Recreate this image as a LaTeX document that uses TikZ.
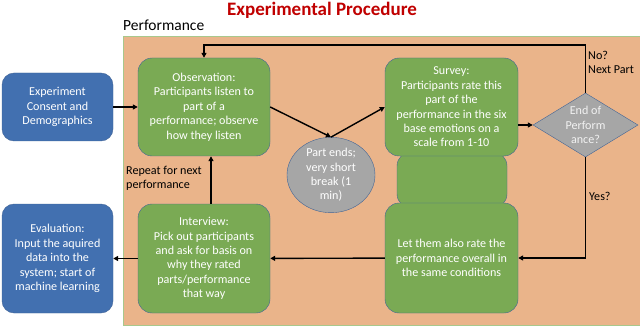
\documentclass[tikz,border=0pt]{standalone}
\usepackage{fontspec}
\setmainfont{Carlito}
\usetikzlibrary{positioning,calc,arrows.meta,shapes.geometric}
\definecolor{panelorange}{RGB}{234,180,138}
\definecolor{panelline}{RGB}{168,200,140}
\definecolor{stagegreen}{RGB}{122,170,84}
\definecolor{startblue}{RGB}{66,112,176}
\definecolor{edgeblue}{RGB}{65,100,150}
\definecolor{titlered}{RGB}{192,0,0}
\tikzset{>={Triangle[length=5pt,width=5pt]}}

\begin{document}
\begin{tikzpicture}[
    x=1pt, y=-1pt,
    font=\fontsize{12.1}{14.4}\selectfont,
    stagebox/.style={rectangle, rounded corners=14pt, draw=edgeblue, fill=stagegreen, text=white, align=center, inner sep=0pt},
    bluebox/.style={rectangle, rounded corners=12pt, draw=edgeblue, fill=startblue, text=white, align=center, inner sep=0pt, minimum width=111pt},
    flow/.style={->, line width=1.4pt}
]
\useasboundingbox (0,0) rectangle (640,326);

% panel and headings
\draw[panelline, fill=panelorange] (123,36) rectangle (640,325);
\node[font=\fontsize{19}{22}\selectfont\bfseries, text=titlered] (title) at (322,10) {Experimental Procedure};
\node[font=\fontsize{15.5}{18}\selectfont, anchor=west, inner sep=0pt] (perf) at (123,25) {Performance};

% stages
\node[stagebox, minimum width=110pt, minimum height=56pt] (mid) at (452,180) {};
\node[stagebox, minimum width=132pt, minimum height=98pt] (obs) at (204,107) {Observation:\\Participants listen to\\part of a\\performance; observe\\how they listen};
\node[stagebox, minimum width=133pt, minimum height=98pt] (survey) at (451.5,107) {Survey:\\Participants rate this\\part of the\\performance in the six\\base emotions on a\\scale from 1-10};
\node[stagebox, minimum width=133pt, minimum height=110pt] (rate) at (451.5,258) {Let them also rate the\\performance overall in\\the same conditions};
\node[stagebox, minimum width=132pt, minimum height=109pt] (intv) at (204,258.5) {Interview:\\Pick out participants\\and ask for basis on\\why they rated\\parts/performance\\that way};
\node[bluebox, minimum height=68pt] (consent) at (57.5,107) {Experiment\\Consent and\\Demographics};
\node[bluebox, minimum height=109pt] (eval) at (57.5,258.5) {Evaluation:\\Input the aquired\\data into the\\system; start of\\machine learning};
\node[ellipse, draw=edgeblue, fill=gray!70, text=white, align=center, minimum width=88pt, minimum height=74pt, inner sep=0pt] (brk) at (331,175) {Part ends;\\very short\\break (1\\min)};
\node[diamond, draw=edgeblue, fill=gray!70, minimum width=105pt, minimum height=64pt, inner sep=0pt,
      label={[text=white!90!gray, align=center]center:{End of\\Perform\\ance?}}] (endq) at (585.5,125) {};

% connectors
\coordinate (back) at (585.5,45);
\draw[flow] (consent) -- (obs);
\draw[flow] (obs.east) -- (brk.north);
\draw[flow] (brk.north) -- (survey.west);
\draw[flow] (survey.east |- endq.west) -- (endq.west);
\draw[flow] (endq.north) -- (back) -| (obs.north);
\draw[flow] (endq.south) |- (rate.east);
\draw[flow] (rate) -- (intv);
\draw[flow] (intv) -- (eval);
\draw[flow] ([xshift=7pt]intv.north) -- ([xshift=7pt]obs.south);

% labels
\node[anchor=north west, align=left, inner sep=0pt] (nolab) at (588,51) {No?\\Next Part};
\node[anchor=west, inner sep=0pt] (yeslab) at (589,196) {Yes?};
\node[anchor=north west, align=left, inner sep=0pt] (replab) at (126,166) {Repeat for next\\performance};
\end{tikzpicture}
\end{document}
